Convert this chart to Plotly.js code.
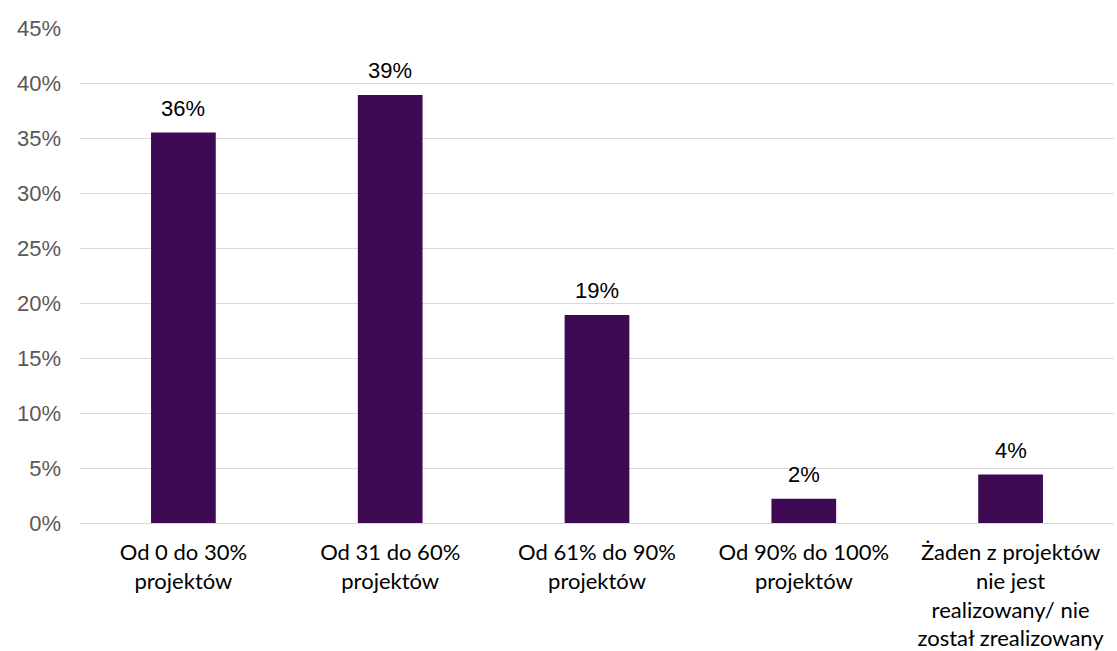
<!DOCTYPE html>
<html>
<head>
<meta charset="utf-8">
<script src="https://cdn.plot.ly/plotly-3.0.1.min.js"></script>
<style>html,body{margin:0;padding:0;background:#fff;}#chart{width:1117px;height:651px;}</style>
</head>
<body>
<div id="chart"></div>
<script>
var categories = [
  "Od 0 do 30%<br>projektów",
  "Od 31 do 60%<br>projektów",
  "Od 61% do 90%<br>projektów",
  "Od 90% do 100%<br>projektów",
  "Żaden z projektów<br>nie jest<br>realizowany/ nie<br>został zrealizowany"
];
var values = [0.355, 0.389, 0.189, 0.022, 0.044];
var labels = ["36%", "39%", "19%", "2%", "4%"];

var trace = {
  type: "bar",
  x: categories,
  y: values,
  marker: {color: "#3E0A54"},
  hoverinfo: "none"
};

var annotations = categories.map(function (c, i) {
  return {
    x: c, y: values[i], xref: "x", yref: "y",
    text: labels[i], showarrow: false,
    yanchor: "bottom", yshift: 10,
    font: {family: "Liberation Sans, Arial, sans-serif", size: 22, color: "#000000"}
  };
});

var layout = {
  width: 1117, height: 651,
  margin: {l: 80, r: 3, t: 28, b: 128},
  paper_bgcolor: "#ffffff", plot_bgcolor: "#ffffff",
  bargap: 0.687,
  showlegend: false,
  xaxis: {
    type: "category",
    showgrid: false, zeroline: false, showline: false,
    ticks: "outside", ticklen: 10, tickcolor: "rgba(0,0,0,0)",
    tickfont: {family: "Lato, sans-serif", size: 22, color: "#000000"}
  },
  yaxis: {
    range: [0, 0.45],
    dtick: 0.05, tick0: 0,
    tickformat: ".0%",
    showgrid: true, gridcolor: "#d9d9d9", gridwidth: 1,
    zeroline: true, zerolinecolor: "#d9d9d9", zerolinewidth: 1,
    showline: false,
    ticklabelstandoff: 18,
    tickfont: {family: "Liberation Sans, Arial, sans-serif", size: 22, color: "#595959"}
  },
  annotations: annotations
};

Plotly.newPlot("chart", [trace], layout, {displayModeBar: false, staticPlot: true});
</script>
</body>
</html>
